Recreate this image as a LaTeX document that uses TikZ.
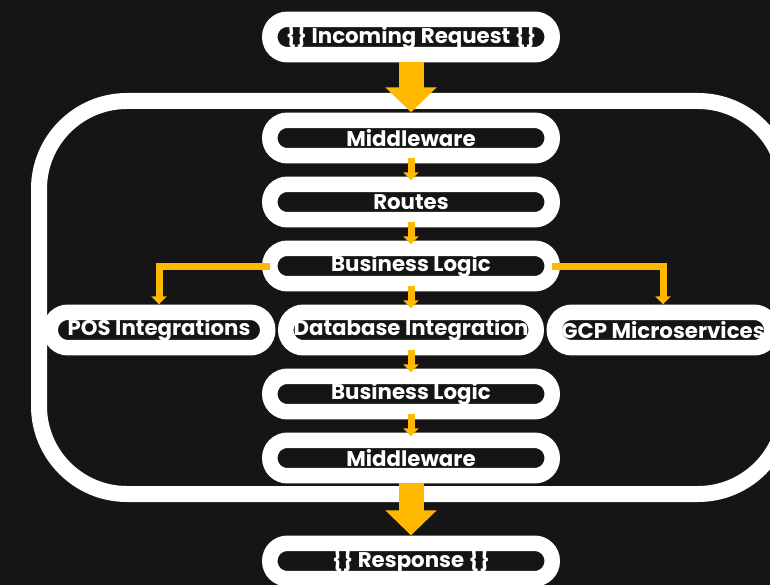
\documentclass[tikz,border=0pt]{standalone}
\usepackage{fontspec}
\newfontfamily\poppins{Poppins}
\usetikzlibrary{arrows.meta, positioning}
\definecolor{bgdark}{HTML}{151515}
\definecolor{arrowyellow}{HTML}{FFB800}

\begin{document}
\begin{tikzpicture}[x=1pt, y=-1pt,
  box/.style={fill=bgdark, rounded corners=17.5pt, minimum height=35pt, minimum width=282pt,
    inner sep=0pt, text=white, font=\poppins\bfseries\fontsize{21.3}{24}\selectfont},
  boxline/.style={draw=white, line width=15.5pt, rounded corners=17.5pt},
  bigarrow/.style={arrowyellow, line width=25pt, -{Triangle[width=50pt,length=25pt]},
    shorten <=7.75pt, shorten >=8pt},
  smallarrow/.style={arrowyellow, line width=7pt, -{Triangle[width=15pt,length=8pt]}}]
  \useasboundingbox (0,0) rectangle (770,585);
  \fill[bgdark] (0,0) rectangle (770,585);

  % outer frame
  \draw[white, line width=16pt, rounded corners=88pt] (39,101) rectangle (786,494);

  \node[box] (req) at (411,37) {\{\} Incoming Request \{\}};
  \node[box] (mw1) at (411,138) {Middleware};
  \node[box] (routes) at (411,202) {Routes};
  \node[box] (bl1) at (411,266) {Business Logic};
  \node[box, minimum width=217pt] (pos) at (159,330) {POS Integrations};
  \node[box, minimum width=250pt] (db) at (411,330) {Database Integration};
  \node[box, minimum width=217pt] (gcp) at (663,330) {GCP Microservices};
  \node[box] (bl2) at (411,394) {Business Logic};
  \node[box] (mw2) at (411,458) {Middleware};
  \node[box] (resp) at (411,561) {\{\} Response \{\}};

  % white rims on top of the texts
  \foreach \n in {req,mw1,routes,bl1,pos,db,gcp,bl2,mw2,resp}
    \draw[boxline] (\n.south west) rectangle (\n.north east);

  \draw[bigarrow] (req) -- (mw1);
  \draw[bigarrow] (mw2) -- (resp);

  \draw[smallarrow, shorten <=2pt, shorten >=4pt] (mw1) -- (routes);
  \draw[smallarrow, shorten <=2pt, shorten >=4pt] (routes) -- (bl1);
  \draw[smallarrow, shorten <=2pt, shorten >=4pt] (bl1) -- (db);
  \draw[smallarrow, shorten <=2pt, shorten >=4pt] (db) -- (bl2);
  \draw[smallarrow, shorten <=2pt, shorten >=4pt] (bl2) -- (mw2);
  \draw[smallarrow, shorten >=8pt] (bl1.west) -| (pos.north);
  \draw[smallarrow, shorten >=8pt] (bl1.east) -| (gcp.north);
\end{tikzpicture}
\end{document}
